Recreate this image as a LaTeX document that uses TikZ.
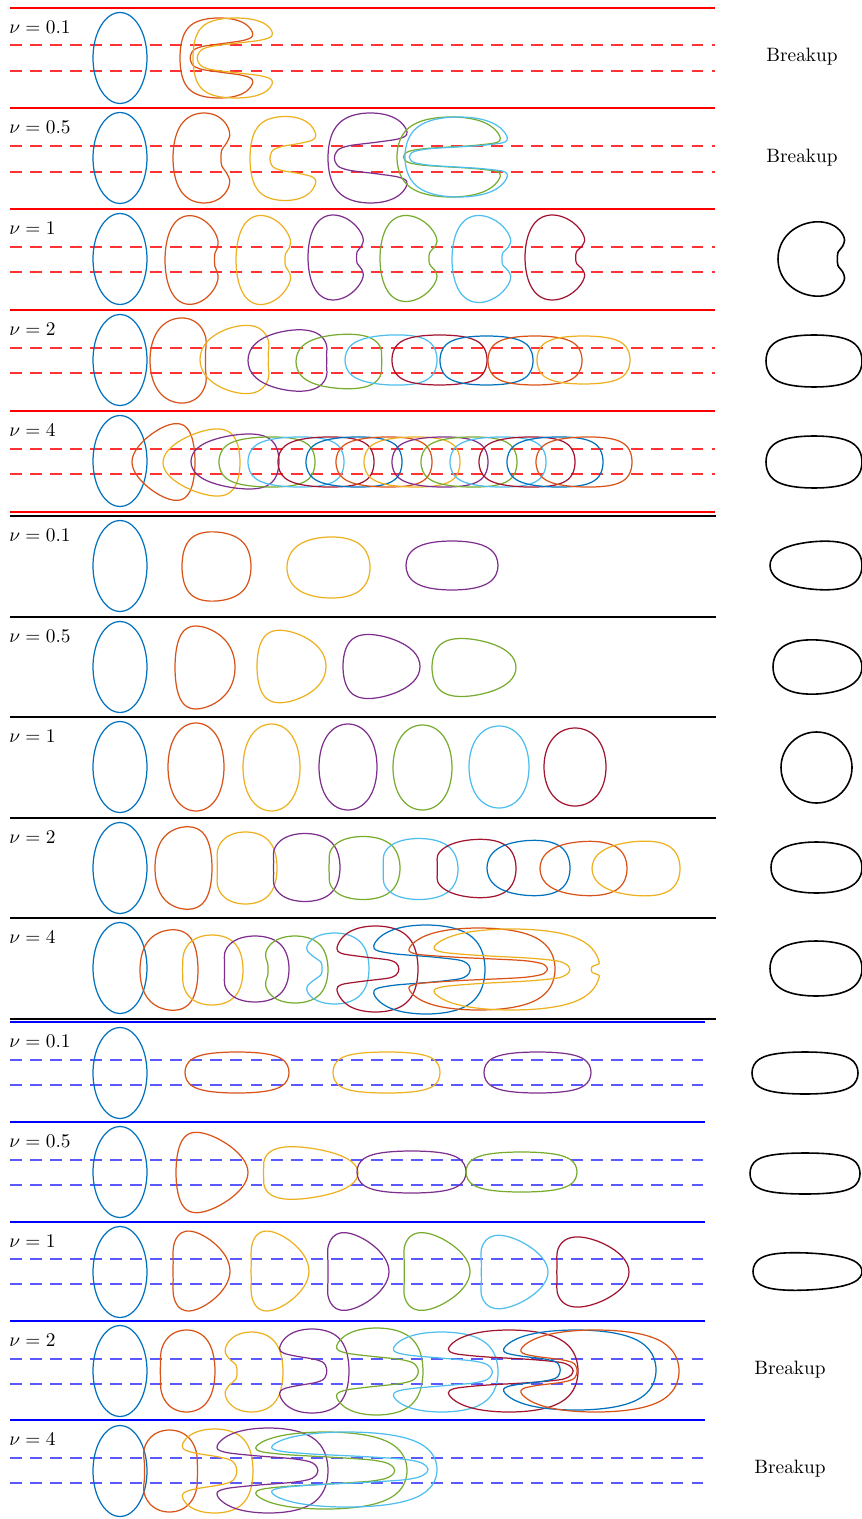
\documentclass[tikz,border=0pt]{standalone}

\definecolor{cazul}{rgb}{0,0.447,0.741}
\definecolor{cnaranja}{rgb}{0.850,0.325,0.098}
\definecolor{camarillo}{rgb}{0.929,0.694,0.125}
\definecolor{cmorado}{rgb}{0.494,0.184,0.556}
\definecolor{cverde}{rgb}{0.466,0.674,0.188}
\definecolor{ccian}{rgb}{0.301,0.745,0.933}
\definecolor{cgranate}{rgb}{0.635,0.078,0.184}

% gota: elipse cuadrada con entrantes a derecha (r) e izquierda (l)
\pgfkeys{/gota/.cd,
  c/.store in=\dC, x/.store in=\dX, y/.store in=\dY,
  a/.store in=\dA, b/.store in=\dB, p/.store in=\dP, e/.store in=\dE,
  r/.store in=\dR, rw/.store in=\dRw, l/.store in=\dL, lw/.store in=\dLw,
  n/.store in=\dN}
\newcommand\gota[2][]{%
  \pgfkeys{/gota/.cd,c=black,p=1,e=0,r=0,rw=0.3,l=0,lw=0.3,n=40,#2}%
  \pgfmathsetmacro\dS{0.11*(1-\dP)}%
  \pgfmathsetmacro\dK{max(\dR,\dL)>0.7}%
  \ifdim\dK pt>0.5pt \def\dG{Gn}\else\def\dG{Gs}\fi
  \draw[color=\dC,#1,shift={(\dX,\dY)}]
    plot[smooth cycle,domain=-180:180-360/\dN,samples=\dN,variable=\t]
    ({(\dA)*(Xs(\t,\dS)-(\dR)*max(cos(\t),0)*\dG(sin(\t),\dRw)+(\dL)*max(-cos(\t),0)*\dG(sin(\t),\dLw))},
     {(\dB)*Ys(\t,\dS)*(1+(\dE)*cos(\t))});}

\begin{document}
\begin{tikzpicture}[x=0.01cm, y=-0.01cm, line width=0.35pt,
  declare function={
    Xs(\u,\s)=(cos(\u)-\s*cos(3*\u))/(1-\s);
    Ys(\u,\s)=(sin(\u)+\s*sin(3*\u))/(1-\s);
    Hq(\m)=(1-0.15*min(\m,1))/(1+\m*\m*\m*\m);
    Gn(\v,\w)=Hq(min(\v*\v/(0.83*\w*\w),9));
    Gs(\v,\w)=1/(1+min(\v*\v/(\w*\w),60)*min(\v*\v/(\w*\w),60));},
  etiq/.style={anchor=west, inner sep=0pt, scale=0.55, transform shape},
  rotulo/.style={inner sep=0pt, scale=0.55, transform shape},
  final/.style={line width=0.45pt},
  sepR/.style={red, line width=0.45pt},
  sepN/.style={black, line width=0.45pt},
  sepA/.style={blue, line width=0.45pt},
  guiaR/.style={red!80, line width=0.45pt, dash pattern=on 3.4pt off 2.3pt},
  guiaA/.style={blue!65, line width=0.45pt, dash pattern=on 3.4pt off 2.3pt}]
\useasboundingbox (0,0) rectangle (862,1519);

% separadores y canales
\foreach \yy in {8,108,209,310,411,512} \draw[sepR] (10,\yy) -- (715,\yy);
\foreach \yy in {516,617,717,818,918,1019} \draw[sepN] (10,\yy) -- (716,\yy);
\foreach \yy in {1022,1122,1222,1321,1420} \draw[sepA] (10,\yy) -- (705,\yy);
\foreach \yy in {45,71,146,172,247,272,348,373,449,474} \draw[guiaR] (10,\yy) -- (715,\yy);
\foreach \yy in {1060,1085,1160,1185,1259,1284,1359,1384,1458,1483} \draw[guiaA] (10,\yy) -- (705,\yy);

% rotulos
\node[etiq] (nuR1) at (9,27) {$\nu=0.1$};
\node[etiq] (nuR2) at (9,127) {$\nu=0.5$};
\node[etiq] (nuR3) at (9,228) {$\nu=1$};
\node[etiq] (nuR4) at (9,329) {$\nu=2$};
\node[etiq] (nuR5) at (9,430) {$\nu=4$};
\node[etiq] (nuN1) at (9,535) {$\nu=0.1$};
\node[etiq] (nuN2) at (9,636) {$\nu=0.5$};
\node[etiq] (nuN3) at (9,736) {$\nu=1$};
\node[etiq] (nuN4) at (9,837) {$\nu=2$};
\node[etiq] (nuN5) at (9,937) {$\nu=4$};
\node[etiq] (nuA1) at (9,1041) {$\nu=0.1$};
\node[etiq] (nuA2) at (9,1141) {$\nu=0.5$};
\node[etiq] (nuA3) at (9,1241) {$\nu=1$};
\node[etiq] (nuA4) at (9,1340) {$\nu=2$};
\node[etiq] (nuA5) at (9,1439) {$\nu=4$};
\node[rotulo] (rupR1) at (802,57) {Breakup};
\node[rotulo] (rupR2) at (802,158) {Breakup};
\node[rotulo] (rupA4) at (790,1370) {Breakup};
\node[rotulo] (rupA5) at (790,1469) {Breakup};

% gota inicial
\foreach \yy in {58,158,259,360,461,566,667,767,868,968,1073,1172,1272,1371,1471}
  \gota{c=cazul,x=120,y=\yy,a=27,b=45.5};

% canal rojo, nu=0.1
\gota{c=cnaranja,x=219,y=58,a=39,b=40,p=0.6,r=1.74,rw=0.36,n=100}
\gota{c=camarillo,x=235.5,y=58,a=42.5,b=40,p=0.55,r=1.9,rw=0.36,n=100}
% nu=0.5
\gota{c=cnaranja,x=204,y=158,a=31,b=45,p=0.8,r=0.45,rw=0.32}
\gota{c=camarillo,x=285,y=158.5,a=35,b=42,p=0.65,r=1.43,rw=0.34,n=100}
\gota{c=cmorado,x=370.5,y=158,a=42.5,b=45,p=0.7,r=1.85,rw=0.35,n=100}
\gota{c=cverde,x=451,y=157,a=54,b=40,p=0.7,r=1.88,rw=0.26,n=100}
\gota{c=ccian,x=458.5,y=157,a=53.5,b=40,p=0.7,r=1.92,rw=0.26,n=100}
% nu=1
\gota{c=cnaranja,x=193.5,y=260,a=28.5,b=44,p=0.9,e=-0.12,r=0.26,rw=0.3}
\gota{c=camarillo,x=265.5,y=260,a=29.5,b=44,p=0.9,e=-0.15,r=0.34,rw=0.3}
\gota{c=cmorado,x=338,y=257.5,a=30,b=42,p=0.9,e=-0.15,r=0.38,rw=0.3}
\gota{c=cverde,x=411,y=258.5,a=31,b=42.5,p=0.9,e=-0.15,r=0.42,rw=0.3}
\gota{c=ccian,x=484,y=259,a=32,b=43,p=0.9,e=-0.15,r=0.44,rw=0.3}
\gota{c=cgranate,x=557.5,y=257.5,a=32.5,b=42,p=0.9,e=-0.15,r=0.44,rw=0.3}
\gota[final]{x=814,y=259,a=36,b=37,p=0.9,e=0.1,r=0.35,rw=0.3}
% nu=2
\gota{c=cnaranja,x=180,y=360.5,a=30,b=42.5,p=0.85,e=0.05,r=0.15,rw=0.35}
\gota{c=camarillo,x=236,y=359.5,a=36,b=33,p=0.8,e=0.25,r=0.1,rw=0.3}
\gota{c=cmorado,x=289,y=360.5,a=41,b=30,p=0.75,e=0.2,r=0.08,rw=0.3}
\gota{c=cverde,x=340,y=361.5,a=44,b=27,p=0.7,e=0.12,r=0.05}
\gota{c=ccian,x=391,y=360,a=46,b=25,p=0.65,e=0.08}
\gota{c=cgranate,x=439.5,y=360,a=47.5,b=25,p=0.6}
\gota{c=cazul,x=486.5,y=360.5,a=46.5,b=24.5,p=0.6}
\gota{c=cnaranja,x=535,y=360.5,a=47,b=24.5,p=0.6}
\gota{c=camarillo,x=583.5,y=360,a=46.5,b=24,p=0.6}
\gota[final]{x=814,y=361,a=48,b=26,p=0.65}
% nu=4
\gota{c=cnaranja,x=163.5,y=462,a=31.5,b=35,p=0.8,e=0.45}
\gota{c=camarillo,x=201.5,y=462.5,a=38.5,b=31,p=0.75,e=0.4}
\gota{c=cmorado,x=235,y=461.5,a=44,b=26.5,p=0.7,e=0.25}
\foreach \L/\cc in {219/cverde,248/ccian,278/cgranate,306/cazul,336/cnaranja,364/camarillo,
    392/cmorado,421/cverde,450/ccian,479/cgranate,507/cazul,536/cnaranja}
  \gota{c=\cc,x=\L+48,y=462,a=48,b=25,p=0.6,e=0.05};
\gota[final]{x=814,y=462,a=48,b=26,p=0.65}

% canal libre, nu=0.1
\gota{c=cnaranja,x=216.5,y=566.5,a=34.5,b=34.5,p=0.7,e=-0.08}
\gota{c=camarillo,x=328.5,y=567.5,a=41.5,b=30.5,p=0.78,e=0.05}
\gota{c=cmorado,x=452,y=565.5,a=46,b=24.5,p=0.72}
\gota[final]{x=816,y=565.5,a=46,b=24,p=0.75,e=0.15}
% nu=0.5
\gota{c=cnaranja,x=205,y=667.5,a=30,b=40,p=0.75,e=-0.25}
\gota{c=camarillo,x=291.5,y=666.5,a=34.5,b=34.5,p=0.75,e=-0.3}
\gota{c=cmorado,x=381.5,y=666.5,a=38.5,b=30.5,p=0.75,e=-0.3}
\gota{c=cverde,x=474,y=667.5,a=42,b=28,p=0.75,e=-0.25}
\gota[final]{x=817.5,y=667,a=44.5,b=27,p=0.8,e=-0.1}
% nu=1
\gota{c=cnaranja,x=196,y=767,a=28,b=44,p=0.9}
\gota{c=camarillo,x=271.5,y=767.5,a=28.5,b=43.5,p=0.9}
\gota{c=cmorado,x=348,y=767,a=29,b=43,p=0.9}
\gota{c=cverde,x=422.5,y=767.5,a=29.5,b=42.5,p=0.9}
\gota{c=ccian,x=499,y=767,a=30,b=41,p=0.9}
\gota{c=cgranate,x=575,y=767,a=31,b=39,p=0.9}
\gota[final]{x=816.5,y=767.5,a=35.5,b=35.5}
% nu=2
\gota{c=cnaranja,x=183.5,y=868,a=28.5,b=41,p=0.75,e=0.1}
\gota{c=camarillo,x=245.5,y=868,a=31.5,b=36,p=0.75,l=0.1,lw=0.35}
\gota{c=cmorado,x=305,y=867.5,a=35,b=34,p=0.75,l=0.1,lw=0.35}
\gota{c=cverde,x=363,y=868,a=37,b=31.5,p=0.75,l=0.08,lw=0.35}
\gota{c=ccian,x=419,y=869,a=39,b=30.5,p=0.75,l=0.08,lw=0.35}
\gota{c=cgranate,x=474.5,y=868.5,a=41.5,b=29,p=0.75,e=0.1,l=0.1,lw=0.35}
\gota{c=cazul,x=528.5,y=868,a=41.5,b=27.5,p=0.75,e=0.1}
\gota{c=cnaranja,x=583.5,y=868.5,a=43.5,b=27,p=0.75,e=0.1}
\gota{c=camarillo,x=636,y=868.5,a=44,b=27,p=0.75,e=0.15}
\gota[final]{x=816.5,y=867.5,a=45.5,b=25.5,p=0.75}
% nu=4
\gota{c=cnaranja,x=169,y=970,a=29,b=40,p=0.75,e=0.1}
\gota{c=camarillo,x=212,y=970,a=31,b=35,p=0.75,l=0.05}
\gota{c=cmorado,x=255,y=969,a=34,b=33,p=0.75,l=0.1,lw=0.35}
\gota{c=cverde,x=295,y=969.5,a=33,b=33.5,p=0.75,l=0.18,lw=0.3}
\gota{c=ccian,x=334.5,y=968.5,a=34.5,b=35.5,p=0.75,l=0.64,lw=0.33}
\gota{c=cgranate,x=375.5,y=969,a=42.5,b=43,p=0.7,l=1.55,lw=0.28,n=100}
\gota{c=cazul,x=426,y=969.5,a=59,b=44.5,p=0.7,l=1.75,lw=0.31,n=100}
\gota{c=cnaranja,x=478.5,y=969,a=76.5,b=41,p=0.7,l=1.9,lw=0.27,n=100}
\gota{c=camarillo,x=511.5,y=969.5,a=88.5,b=40.5,p=0.7,l=1.66,lw=0.33,r=0.1,rw=0.1,n=100}
\gota[final]{x=816,y=968.5,a=46,b=27.5,p=0.75}

% canal azul, nu=0.1
\gota{c=cnaranja,x=237,y=1072.5,a=52,b=20.5,p=0.6}
\gota{c=camarillo,x=386.5,y=1072.5,a=53.5,b=20.5,p=0.55}
\gota{c=cmorado,x=537.5,y=1072.5,a=53.5,b=20.5,p=0.6}
\gota[final]{x=805,y=1073,a=53,b=21,p=0.6}
% nu=0.5
\gota{c=cnaranja,x=212,y=1172.5,a=36,b=36.5,p=0.75,e=-0.45}
\gota{c=camarillo,x=309.5,y=1173,a=48.5,b=25,p=0.7,e=-0.3,l=0.05}
\gota{c=cmorado,x=411.5,y=1172,a=54.5,b=21,p=0.6}
\gota{c=cverde,x=521.5,y=1172,a=55.5,b=20,p=0.6}
\gota[final]{x=805,y=1173.5,a=55,b=20.5,p=0.55}
% nu=1
\gota{c=cnaranja,x=200,y=1271,a=30,b=37,p=0.8,e=-0.4,l=0.1,lw=0.35}
\gota{c=camarillo,x=278.5,y=1271,a=30.5,b=37,p=0.8,e=-0.4,l=0.1,lw=0.35}
\gota{c=cmorado,x=356.5,y=1271.5,a=32.5,b=36,p=0.8,e=-0.4,l=0.12,lw=0.35}
\gota{c=cverde,x=435,y=1271.5,a=35,b=36,p=0.8,e=-0.4,l=0.12,lw=0.35}
\gota{c=ccian,x=512.5,y=1272,a=35.5,b=34,p=0.8,e=-0.4,l=0.12,lw=0.35}
\gota{c=cgranate,x=591,y=1272,a=38,b=33,p=0.8,e=-0.35,l=0.1,lw=0.35}
\gota[final]{x=807.5,y=1271.5,a=54.5,b=18.5,p=0.65,e=-0.15}
% nu=2
\gota{c=cnaranja,x=186.5,y=1371,a=28.5,b=41,p=0.8,l=0.08,lw=0.35}
\gota{c=camarillo,x=251.5,y=1372,a=31.5,b=40,p=0.75,l=0.54,lw=0.3}
\gota{c=cmorado,x=312,y=1371,a=37,b=42,p=0.7,l=1.4,lw=0.34,n=100}
\gota{c=cverde,x=376.5,y=1371.5,a=46.5,b=43.5,p=0.7,l=1.9,lw=0.35,n=100}
\gota{c=ccian,x=441.5,y=1372,a=56.5,b=40,p=0.7,l=1.9,lw=0.36,n=100}
\gota{c=cgranate,x=509,y=1371,a=69,b=41,p=0.7,l=1.93,lw=0.32,n=100}
\gota{c=cazul,x=575.5,y=1370,a=80.5,b=40,p=0.7,l=0.81,lw=0.33,n=100}
\gota{c=cnaranja,x=595.5,y=1371,a=83.5,b=41,p=0.7,l=0.78,lw=0.33,n=100}
% nu=4
\gota{c=cnaranja,x=169.5,y=1471,a=29.5,b=41,p=0.8,l=0.15,lw=0.35,r=0.05}
\gota{c=camarillo,x=214.5,y=1471,a=38.5,b=42,p=0.7,l=1.58,lw=0.39,n=100}
\gota{c=cmorado,x=268.5,y=1470.5,a=59.5,b=42.5,p=0.7,l=1.83,lw=0.34,n=100}
\gota{c=cverde,x=325,y=1470.5,a=82,b=38.5,p=0.7,l=1.85,lw=0.37,n=100}
\gota{c=ccian,x=347,y=1469.5,a=90,b=37.5,p=0.7,l=1.9,lw=0.38,n=100}
\end{tikzpicture}
\end{document}
